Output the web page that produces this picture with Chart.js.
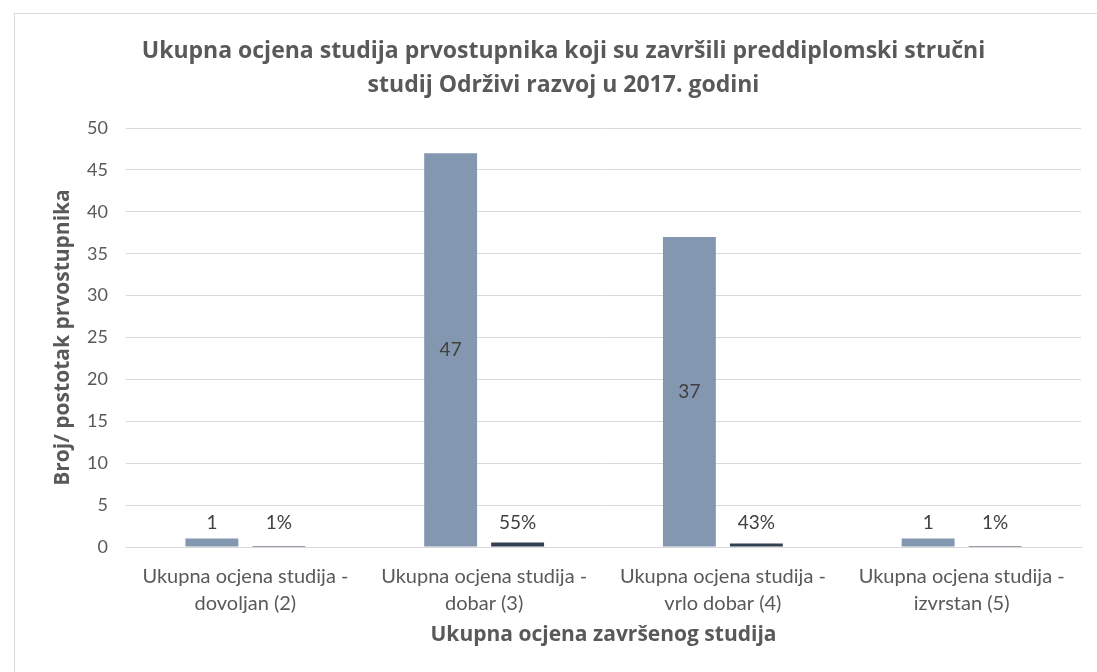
<!DOCTYPE html>
<html>
<head>
<meta charset="utf-8">
<script src="https://cdn.jsdelivr.net/npm/chart.js@4/dist/chart.umd.min.js"></script>
<style>
html,body{margin:0;padding:0;background:#fff;}
#wrap{position:relative;width:1097px;height:672px;}
</style>
</head>
<body>
<div id="wrap"><canvas id="c" width="1097" height="672"></canvas></div>
<script>
const categories = [
  ["Ukupna ocjena studija -", "dovoljan (2)"],
  ["Ukupna ocjena studija -", "dobar (3)"],
  ["Ukupna ocjena studija -", "vrlo dobar (4)"],
  ["Ukupna ocjena studija -", "izvrstan (5)"]
];
const countValues = [1, 47, 37, 1];
const shareValues = [0.01, 0.55, 0.43, 0.01];
const titleLines = ["Ukupna ocjena studija prvostupnika koji su završili preddiplomski stručni", "studij Održivi razvoj u 2017. godini"];
const yTitle = "Broj/ postotak prvostupnika";
const xTitle = "Ukupna ocjena završenog studija";

const FONT = "Lato, 'Liberation Sans', sans-serif";
const BFONT = "'Open Sans', Lato, sans-serif";
const GREY = "#595959";

const frame = {
  id: 'frame',
  beforeDraw(chart) {
    const ctx = chart.ctx;
    ctx.save();
    ctx.fillStyle = '#fff';
    ctx.fillRect(0, 0, chart.width, chart.height);
    ctx.strokeStyle = '#d9d9d9';
    ctx.lineWidth = 1;
    ctx.strokeRect(14.5, 13.5, 1200, 1200);
    ctx.restore();
  }
};

const labels = {
  id: 'labels',
  afterDatasetsDraw(chart) {
    const ctx = chart.ctx;
    ctx.save();
    ctx.font = "19px " + FONT;
    ctx.fillStyle = "#404040";
    ctx.textAlign = "center";
    ctx.textBaseline = "middle";
    chart.data.datasets.forEach((ds, di) => {
      const meta = chart.getDatasetMeta(di);
      meta.data.forEach((bar, i) => {
        const v = ds.data[i];
        const txt = di === 0 ? String(v) : Math.round(v * 100) + "%";
        const h = bar.base - bar.y;
        let y;
        if (di === 0 && h > 30) {
          y = (bar.y + bar.base) / 2;
        } else {
          y = Math.min(bar.y, bar.base - 8) - 16;
        }
        ctx.fillText(txt, bar.x, y);
      });
    });
    ctx.restore();
  }
};

new Chart(document.getElementById('c'), {
  type: 'bar',
  data: {
    labels: categories,
    datasets: [
      { label: 'Broj', data: countValues, backgroundColor: '#8497b0', categoryPercentage: 0.561, barPercentage: 0.79 },
      { label: 'Postotak', data: shareValues, backgroundColor: '#333f50', categoryPercentage: 0.561, barPercentage: 0.79 }
    ]
  },
  options: {
    responsive: false,
    animation: false,
    layout: { padding: { left: 46, right: 16, top: 0, bottom: 0 } },
    plugins: {
      legend: { display: false },
      tooltip: { enabled: false },
      title: {
        display: true,
        text: titleLines,
        color: GREY,
        font: { family: BFONT, size: 23, weight: 'bold', lineHeight: 1.48 },
        padding: { top: 34, bottom: 26 }
      }
    },
    scales: {
      y: {
        min: 0, max: 50,
        ticks: { stepSize: 5, color: GREY, font: { family: FONT, size: 18 }, padding: 18 },
        grid: { color: '#d9d9d9', drawTicks: false },
        border: { display: false },
        title: { display: true, text: yTitle, color: GREY, font: { family: BFONT, size: 21, weight: 'bold', lineHeight: 1.2 }, padding: { top: 4, bottom: 0 } },
        afterFit(scale) { scale.width = 80; }
      },
      x: {
        ticks: { color: GREY, font: { family: FONT, size: 20, lineHeight: 1.35 }, padding: 16, maxRotation: 0, autoSkip: false },
        grid: { display: false, drawTicks: false },
        border: { display: true, color: '#d9d9d9' },
        title: { display: true, text: xTitle, color: GREY, font: { family: BFONT, size: 21, weight: 'bold', lineHeight: 1.2 }, padding: { top: 0, bottom: 24 } },
        afterFit(scale) { scale.height = 125; }
      }
    }
  },
  plugins: [frame, labels]
});
</script>
</body>
</html>
